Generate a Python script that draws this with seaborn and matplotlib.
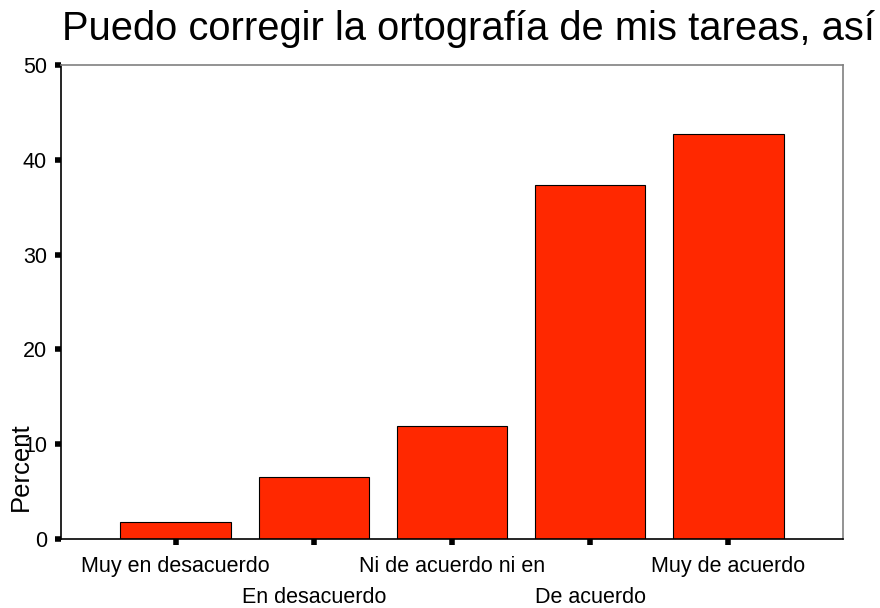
import matplotlib
matplotlib.use("Agg")
import matplotlib.pyplot as plt
import seaborn as sns
import pandas as pd

categories = ["Muy en desacuerdo", "En desacuerdo", "Ni de acuerdo ni en",
              "De acuerdo", "Muy de acuerdo"]
percent = [1.8, 6.5, 11.9, 37.3, 42.7]
title = "Puedo corregir la ortografía de mis tareas, así"

df = pd.DataFrame({"cat": categories, "pct": percent})

sns.set_style("ticks")
plt.rcParams["font.family"] = ["Liberation Sans", "DejaVu Sans"]
plt.rcParams["text.color"] = "black"
plt.rcParams["axes.labelcolor"] = "black"
plt.rcParams["xtick.color"] = "black"
plt.rcParams["ytick.color"] = "black"

fig = plt.figure(figsize=(8.8, 6.08), dpi=100)
ax = fig.add_axes([0.0693, 0.1135, 0.8886, 0.7796])

sns.barplot(data=df, x="cat", y="pct", color="#ff2800", saturation=1,
            width=0.8, edgecolor="black", linewidth=0.8, ax=ax)

ax.set_xlim(-0.83, 4.83)
ax.set_ylim(0, 50)
ax.set_yticks([0, 10, 20, 30, 40, 50])
ax.tick_params(axis="both", length=4, width=4, labelsize=15.5, color="black")
ax.tick_params(axis="x", pad=8)
ax.tick_params(axis="y", pad=6)
ax.set_xlabel("")
ax.set_ylabel("Percent", fontsize=18.5)
ax.yaxis.set_label_coords(-0.036, 0.152)

# staggered category labels, like the original
for i, lab in enumerate(ax.get_xticklabels()):
    if i % 2 == 1:
        lab.set_y(-0.066)

for s in ["top", "right"]:
    ax.spines[s].set_color("#808080")
for s in ["left", "bottom"]:
    ax.spines[s].set_color("black")
for s in ax.spines.values():
    s.set_linewidth(1.2)

fig.text(0.0705, 0.953, title, fontsize=28.7, ha="left", va="center")

fig.savefig("out.png", dpi=100)
